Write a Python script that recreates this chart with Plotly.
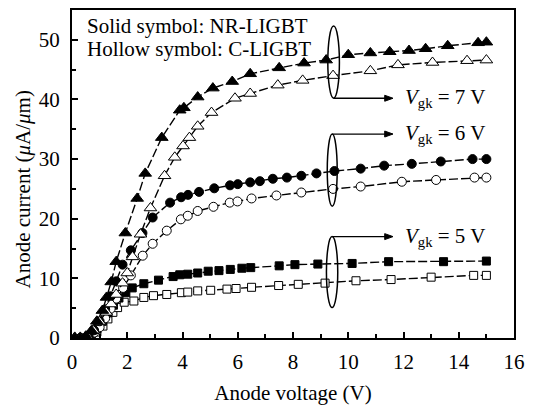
import plotly.graph_objects as go

# ---- data ----
x7n = [0.1, 0.3, 0.5, 0.7, 0.9, 1.1, 1.25, 1.42, 1.6, 1.93, 2.36, 2.65, 3.25, 3.9, 4.05, 4.55, 5.1, 5.8, 6.45, 7.5, 8.4, 9.2, 10.0, 10.8, 11.5, 12.2, 12.8, 13.6, 14.7, 15.0]
y7n = [0.0, 0.0, 0.3, 1.2, 2.8, 4.6, 6.8, 9.4, 12.8, 17.6, 23.4, 27.6, 33.6, 38.2, 38.6, 40.4, 41.9, 43.0, 44.3, 45.3, 46.1, 46.6, 47.5, 47.8, 48.0, 48.2, 48.5, 49.0, 49.5, 49.6]

x7c = [0.1, 0.3, 0.55, 0.77, 1.0, 1.24, 1.42, 1.6, 1.83, 2.0, 2.19, 2.48, 2.84, 3.35, 3.72, 4.02, 4.25, 4.55, 5.05, 5.9, 6.45, 7.45, 8.35, 9.45, 10.8, 11.8, 13.05, 14.3, 15.0]
y7c = [0.1, 0.1, 0.3, 1.3, 2.7, 4.3, 5.7, 7.3, 9.2, 10.9, 13.6, 17.4, 21.8, 27.2, 30.3, 32.2, 33.6, 35.5, 37.8, 40.2, 41.0, 42.4, 43.2, 44.0, 44.8, 45.8, 46.2, 46.5, 46.6]

x6n = [0.3, 0.6, 0.8, 1.0, 1.2, 1.4, 1.6, 1.83, 2.13, 2.55, 2.92, 3.55, 3.95, 4.2, 4.6, 5.15, 5.72, 6.0, 6.45, 6.8, 7.27, 7.78, 8.3, 8.85, 9.5, 10.45, 11.3, 12.3, 13.35, 14.5, 15.0]
y6n = [0.0, 0.3, 1.3, 2.8, 4.8, 7.0, 9.5, 12.3, 14.7, 17.6, 20.2, 22.7, 23.6, 24.0, 24.5, 25.1, 25.6, 25.8, 26.1, 26.3, 26.7, 26.9, 27.2, 27.6, 28.0, 28.4, 28.9, 29.2, 29.6, 30.0, 30.0]

x6c = [0.3, 0.6, 0.8, 1.0, 1.2, 1.4, 1.6, 1.85, 2.13, 2.56, 2.92, 3.43, 3.94, 4.19, 4.55, 5.12, 5.71, 5.99, 6.5, 7.4, 8.3, 9.45, 10.45, 11.94, 13.18, 14.57, 15.0]
y6c = [0.0, 0.2, 0.9, 1.8, 3.3, 4.9, 6.6, 8.4, 10.5, 13.8, 15.8, 18.0, 19.9, 20.5, 21.3, 22.0, 22.7, 22.9, 23.4, 23.9, 24.4, 25.0, 25.4, 26.2, 26.5, 26.9, 26.9]

x5n = [0.4, 0.7, 0.9, 1.1, 1.3, 1.5, 1.7, 1.95, 2.18, 2.6, 3.13, 3.66, 3.9, 4.19, 4.55, 4.93, 5.32, 5.73, 6.15, 6.47, 7.5, 8.07, 8.9, 10.14, 11.46, 13.45, 15.0]
y5n = [0.0, 0.5, 1.5, 2.8, 4.2, 5.5, 6.7, 7.6, 8.4, 9.1, 9.7, 10.3, 10.6, 10.7, 10.9, 11.2, 11.3, 11.5, 11.7, 11.8, 12.1, 12.3, 12.4, 12.5, 12.8, 12.8, 12.9]

x5c = [0.6, 0.9, 1.12, 1.3, 1.48, 1.65, 1.89, 2.24, 2.6, 2.95, 3.43, 3.96, 4.19, 4.55, 5.02, 5.61, 5.94, 6.5, 7.48, 8.19, 9.16, 10.28, 11.55, 13.0, 14.54, 15.0]
y5c = [0.3, 1.0, 2.0, 3.2, 4.3, 5.1, 6.0, 6.2, 6.8, 7.1, 7.3, 7.6, 7.7, 7.9, 8.0, 8.2, 8.3, 8.5, 8.8, 9.0, 9.2, 9.6, 9.8, 10.2, 10.5, 10.5]

x_ticks = [0, 2, 4, 6, 8, 10, 12, 14, 16]
y_ticks = [0, 10, 20, 30, 40, 50]

gate_labels = ["7", "6", "5"]
ell_x = [(9.26, 9.68), (9.24, 9.60), (9.21, 9.62)]
ell_y = [(40.2, 52.3), (22.1, 34.2), (5.1, 17.0)]
arrow_y = [40.2, 34.2, 17.0]
arrow_tip_x = 11.62

FONT = "Times New Roman"

fig = go.Figure()

def add_series(x, y, symbol, filled, size):
    fig.add_trace(go.Scatter(
        x=x, y=y, mode="lines+markers",
        line=dict(color="black", width=1.4, dash="9px,3px"),
        marker=dict(symbol=symbol, size=size,
                    color="black" if filled else "white",
                    line=dict(color="black", width=1)),
        showlegend=False))

add_series(x5c, y5c, "square", False, 8)
add_series(x5n, y5n, "square", True, 8)
add_series(x6c, y6c, "circle", False, 9)
add_series(x6n, y6n, "circle", True, 9)
add_series(x7c, y7c, "triangle-up", False, 11)
add_series(x7n, y7n, "triangle-up", True, 11)

# ellipses, arrows and labels
head_len = 0.30   # in x data units (~8 px)
head_half = 0.5   # in y data units (~3 px)
for lab, (ex0, ex1), (ey0, ey1), ay in zip(gate_labels, ell_x, ell_y, arrow_y):
    fig.add_shape(type="circle", xref="x", yref="y", x0=ex0, x1=ex1, y0=ey0, y1=ey1,
                  line=dict(color="black", width=1.5))
    xc = (ex0 + ex1) / 2
    fig.add_shape(type="line", xref="x", yref="y", x0=xc, x1=arrow_tip_x - head_len * 0.8,
                  y0=ay, y1=ay, line=dict(color="black", width=1.3))
    fig.add_shape(type="path", xref="x", yref="y",
                  path=(f"M {arrow_tip_x},{ay} L {arrow_tip_x - head_len},{ay + head_half} "
                        f"L {arrow_tip_x - head_len},{ay - head_half} Z"),
                  fillcolor="black", line=dict(color="black", width=1))
    fig.add_annotation(x=11.97, y=ay, xref="x", yref="y", xanchor="left", yanchor="middle",
                       text="<i>V</i><sub>gk</sub> = " + lab + " V", showarrow=False,
                       font=dict(family=FONT, size=21, color="black"))

fig.add_annotation(x=0.029, y=0.952, xref="paper", yref="paper", xanchor="left", yanchor="middle",
                   text="Solid symbol: NR-LIGBT", showarrow=False,
                   font=dict(family=FONT, size=21, color="black"))
fig.add_annotation(x=0.029, y=0.882, xref="paper", yref="paper", xanchor="left", yanchor="middle",
                   text="Hollow symbol: C-LIGBT", showarrow=False,
                   font=dict(family=FONT, size=21, color="black"))

# y-axis title as rotated annotation
fig.add_annotation(x=-0.11, y=0.454, xref="paper", yref="paper", xanchor="center", yanchor="middle",
                   textangle=-90, showarrow=False,
                   text="Anode current (<i>μ</i>A/<i>μ</i>m)",
                   font=dict(family=FONT, size=21, color="black"))

axis_common = dict(showline=True, linecolor="black", linewidth=2, mirror=True,
                   ticks="inside", tickcolor="black", tickwidth=1.5, ticklen=6,
                   showgrid=False, zeroline=False,
                   tickfont=dict(family=FONT, size=21, color="black"))

fig.update_xaxes(range=[0, 16], tickvals=x_ticks, ticktext=[str(v) for v in x_ticks],
                 minor=dict(dtick=1, ticks="inside", ticklen=4, tickcolor="black", tickwidth=1.5),
                 title=dict(text="Anode voltage (V)", font=dict(family=FONT, size=21, color="black"),
                            standoff=12),
                 ticklabelstandoff=4, ticklabeloverflow="allow",
                 **axis_common)
fig.update_yaxes(range=[0, 55], tickvals=y_ticks, ticktext=[str(v) for v in y_ticks],
                 minor=dict(dtick=5, ticks="inside", ticklen=4, tickcolor="black", tickwidth=1.5),
                 ticklabelstandoff=6,
                 **axis_common)

fig.update_layout(width=533, height=409,
                  margin=dict(l=72, r=10, t=8, b=66),
                  plot_bgcolor="white", paper_bgcolor="white",
                  font=dict(family=FONT, size=21, color="black"))

fig.write_html("out.html")
